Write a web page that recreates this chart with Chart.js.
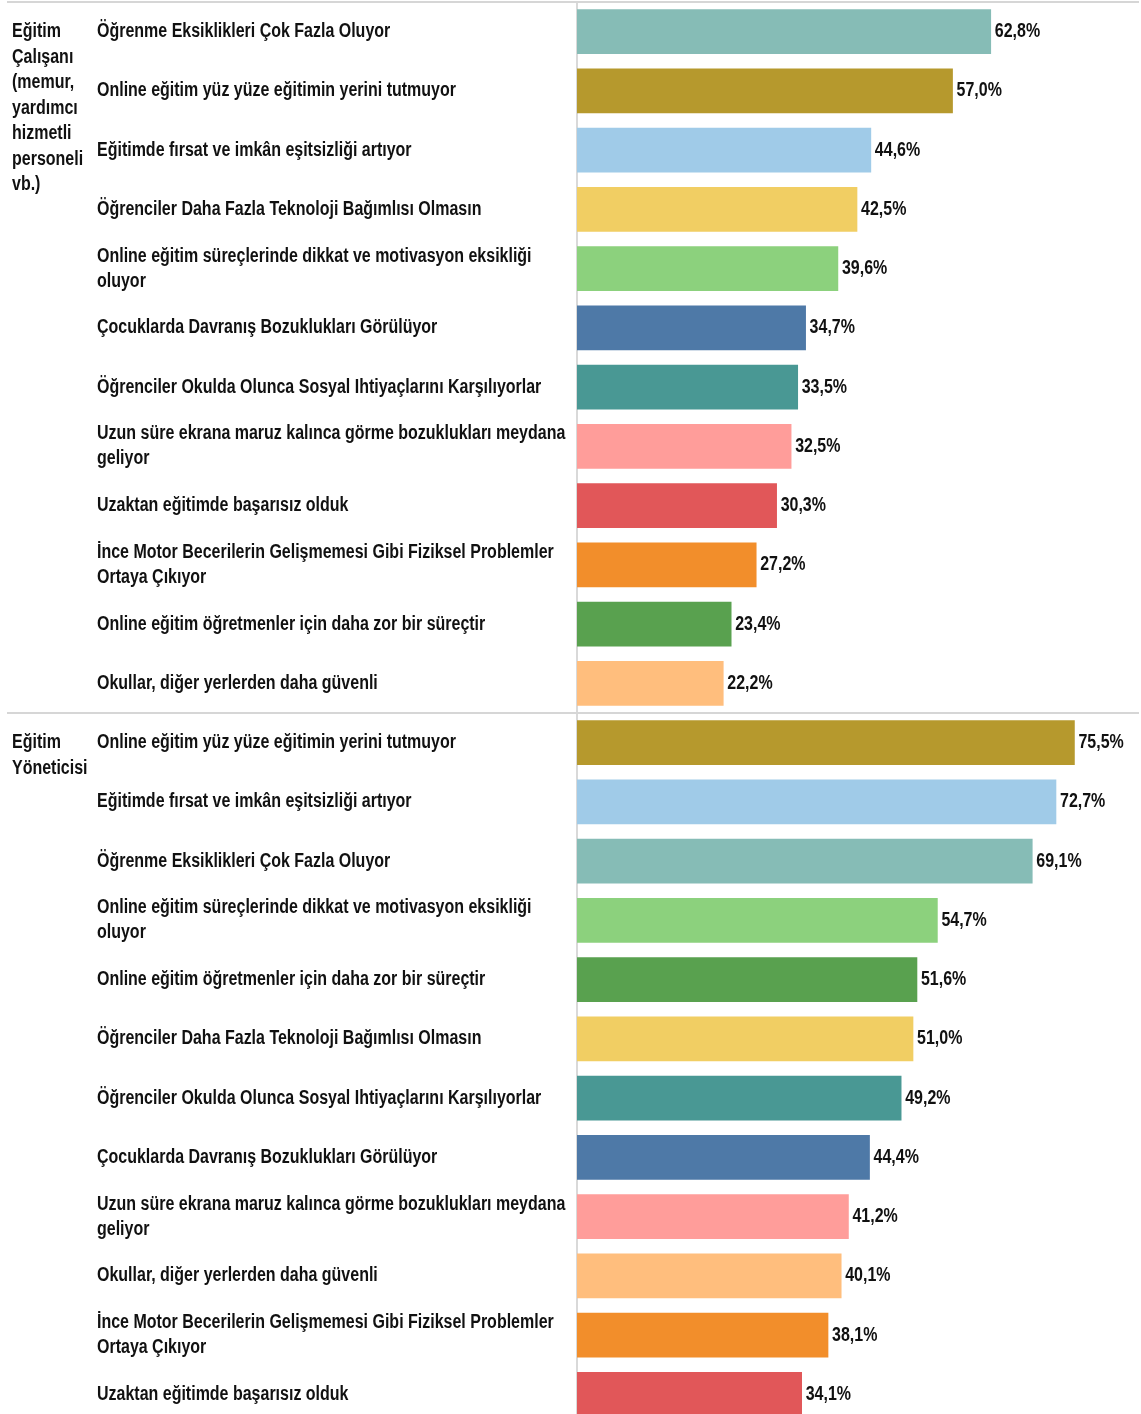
<!DOCTYPE html>
<html>
<head>
<meta charset="utf-8">
<script src="https://cdn.jsdelivr.net/npm/chart.js@4"></script>
<style>
  html, body { margin: 0; padding: 0; background: #fff; overflow: hidden; }
  #wrap { width: 1141px; height: 1414px; overflow: hidden; position: relative; }
  #wrap canvas { position: absolute; left: 0; top: 0; }
</style>
</head>
<body>
<div id="wrap"><canvas id="surveyChart" width="1141" height="1426"></canvas></div>
<script>
// Groups (left column)
const groupNames = [
    ['Eğitim', 'Çalışanı', '(memur,', 'yardımcı', 'hizmetli', 'personeli', 'vb.)'],
    ['Eğitim', 'Yöneticisi']
];

// Group 1: Eğitim Çalışanı
const staffLabels = [
    'Öğrenme Eksiklikleri Çok Fazla Oluyor',
    'Online eğitim yüz yüze eğitimin yerini tutmuyor',
    'Eğitimde fırsat ve imkân eşitsizliği artıyor',
    'Öğrenciler Daha Fazla Teknoloji Bağımlısı Olmasın',
    ['Online eğitim süreçlerinde dikkat ve motivasyon eksikliği', 'oluyor'],
    'Çocuklarda Davranış Bozuklukları Görülüyor',
    'Öğrenciler Okulda Olunca Sosyal Ihtiyaçlarını Karşılıyorlar',
    ['Uzun süre ekrana maruz kalınca görme bozuklukları meydana', 'geliyor'],
    'Uzaktan eğitimde başarısız olduk',
    ['İnce Motor Becerilerin Gelişmemesi Gibi Fiziksel Problemler', 'Ortaya Çıkıyor'],
    'Online eğitim öğretmenler için daha zor bir süreçtir',
    'Okullar, diğer yerlerden daha güvenli'
];
const staffValues = [62.8, 57.0, 44.6, 42.5, 39.6, 34.7, 33.5, 32.5, 30.3, 27.2, 23.4, 22.2];

// Group 2: Eğitim Yöneticisi
const managerLabels = [
    'Online eğitim yüz yüze eğitimin yerini tutmuyor',
    'Eğitimde fırsat ve imkân eşitsizliği artıyor',
    'Öğrenme Eksiklikleri Çok Fazla Oluyor',
    ['Online eğitim süreçlerinde dikkat ve motivasyon eksikliği', 'oluyor'],
    'Online eğitim öğretmenler için daha zor bir süreçtir',
    'Öğrenciler Daha Fazla Teknoloji Bağımlısı Olmasın',
    'Öğrenciler Okulda Olunca Sosyal Ihtiyaçlarını Karşılıyorlar',
    'Çocuklarda Davranış Bozuklukları Görülüyor',
    ['Uzun süre ekrana maruz kalınca görme bozuklukları meydana', 'geliyor'],
    'Okullar, diğer yerlerden daha güvenli',
    ['İnce Motor Becerilerin Gelişmemesi Gibi Fiziksel Problemler', 'Ortaya Çıkıyor'],
    'Uzaktan eğitimde başarısız olduk'
];
const managerValues = [75.5, 72.7, 69.1, 54.7, 51.6, 51.0, 49.2, 44.4, 41.2, 40.1, 38.1, 34.1];

// one colour per statement
const colorByStatement = {
    'Öğrenme Eksiklikleri': '#86bcb6',
    'Online eğitim yüz yüze': '#b6992d',
    'Eğitimde fırsat': '#a0cbe8',
    'Öğrenciler Daha Fazla': '#f1ce63',
    'Online eğitim süreçlerinde': '#8cd17d',
    'Çocuklarda Davranış': '#4e79a7',
    'Öğrenciler Okulda': '#499894',
    'Uzun süre ekrana': '#ff9d9a',
    'Uzaktan eğitimde': '#e15759',
    'İnce Motor': '#f28e2b',
    'Online eğitim öğretmenler': '#59a14f',
    'Okullar, diğer': '#ffbe7d'
};

// no Arial Narrow here, so squeeze Liberation Sans Bold sideways
const FONT = 'bold 19.5px "Liberation Sans", Arial, sans-serif';
const SQUEEZE = 0.82;
const TEXT = '#111';

const allLabels = staffLabels.concat(managerLabels);
const allValues = staffValues.concat(managerValues);
const colors = allLabels.map(l => {
    const s = Array.isArray(l) ? l[0] : l;
    const key = Object.keys(colorByStatement).find(k => s.startsWith(k));
    return colorByStatement[key];
});

function narrowText(ctx, txt, x, y) {
    ctx.save();
    ctx.translate(x, y);
    ctx.scale(SQUEEZE, 1);
    ctx.fillText(txt, 0, 0);
    ctx.restore();
}

// separators, category + group names, value labels
const extras = {
    id: 'extras',
    afterDraw(chart) {
        const ctx = chart.ctx;
        const y = chart.scales.y;
        const area = chart.chartArea;
        const pitch = (area.bottom - area.top) / allLabels.length;
        ctx.save();
        ctx.strokeStyle = '#d6d6d6';
        ctx.lineWidth = 2;
        [0, staffLabels.length].forEach(i => {
            const yy = area.top + i * pitch;
            ctx.beginPath();
            ctx.moveTo(7, yy);
            ctx.lineTo(1139, yy);
            ctx.stroke();
        });

        ctx.fillStyle = TEXT;
        ctx.font = FONT;
        ctx.textBaseline = 'middle';
        ctx.textAlign = 'left';

        allLabels.forEach((lab, i) => {
            const cy = y.getPixelForValue(i);
            const lines = Array.isArray(lab) ? lab : [lab];
            const off = (lines.length - 1) * 12.5;
            lines.forEach((t, k) => narrowText(ctx, t, 97, cy - off + k * 25));
        });

        groupNames.forEach((lines, g) => {
            const start = g === 0 ? 0 : staffLabels.length;
            const y0 = y.getPixelForValue(start);
            lines.forEach((t, i) => narrowText(ctx, t, 12, y0 + i * 25.5));
        });

        const meta = chart.getDatasetMeta(0);
        meta.data.forEach((bar, i) => {
            const txt = allValues[i].toFixed(1).replace('.', ',') + '%';
            narrowText(ctx, txt, bar.x + 4, bar.y);
        });
        ctx.restore();
    }
};

new Chart(document.getElementById('surveyChart'), {
    type: 'bar',
    data: {
        labels: allLabels,
        datasets: [{
            data: allValues,
            backgroundColor: colors,
            barThickness: 44
        }]
    },
    options: {
        indexAxis: 'y',
        responsive: false,
        animation: false,
        layout: { padding: { left: 97, top: 2, bottom: 2, right: 2 } },
        plugins: {
            legend: { display: false },
            tooltip: { enabled: false }
        },
        scales: {
            x: {
                display: false,
                min: 0,
                max: 85.3
            },
            y: {
                afterFit(scale) { scale.width = 480; },
                grid: { display: false, drawTicks: false },
                border: { display: true, color: '#d9d9d9', width: 2 },
                ticks: { display: false }
            }
        }
    },
    plugins: [extras]
});
</script>
</body>
</html>
